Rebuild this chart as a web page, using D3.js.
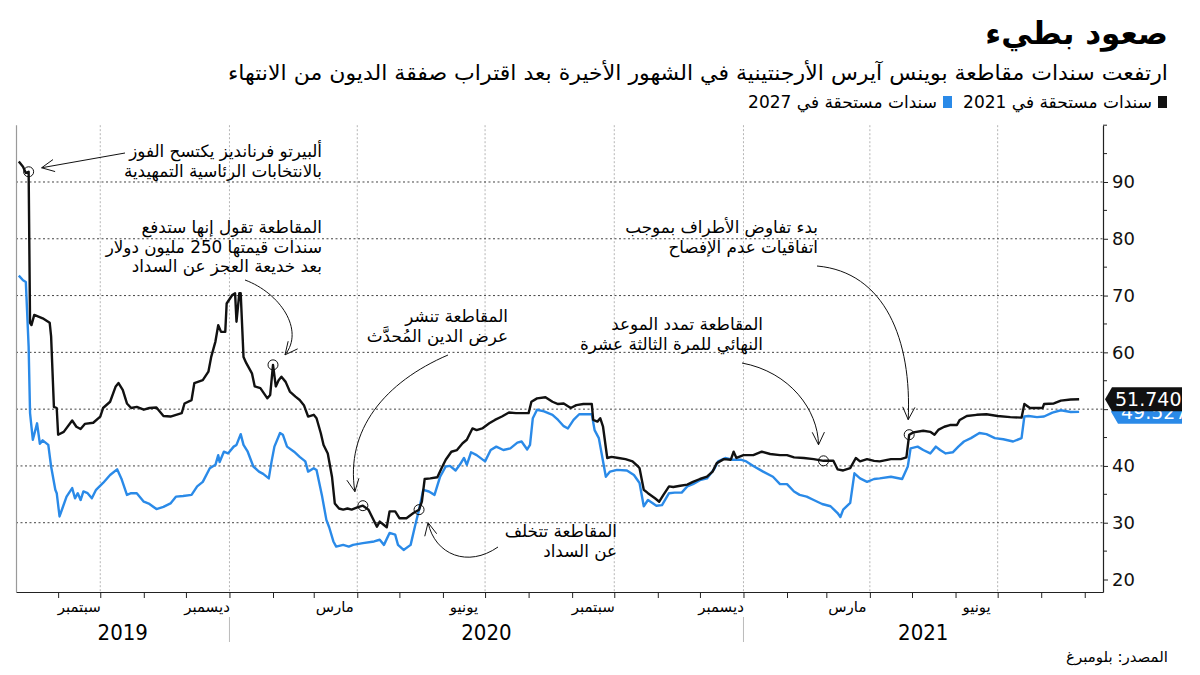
<!DOCTYPE html>
<html><head><meta charset="utf-8">
<script src="https://cdn.jsdelivr.net/npm/d3@7"></script>
<style>body{margin:0;background:#fff} svg{display:block}</style>
</head><body><svg id="c" width="1200" height="675"></svg>
<script>
// ---------------- DATA ----------------
const bonds2021 = [["2019-08-04",93.6],["2019-08-07",92.7],["2019-08-09",91.6],["2019-08-11",91.8],["2019-08-12",65.2],["2019-08-13",64.8],["2019-08-15",66.6],["2019-08-21",66.0],["2019-08-26",65.2],["2019-08-27",62.8],["2019-08-29",50.4],["2019-08-31",50.2],["2019-09-01",45.5],["2019-09-05",46.0],["2019-09-11",48.0],["2019-09-14",46.9],["2019-09-17",46.5],["2019-09-20",47.4],["2019-09-26",47.6],["2019-10-01",48.7],["2019-10-03",50.2],["2019-10-08",51.3],["2019-10-12",54.0],["2019-10-14",54.6],["2019-10-17",53.4],["2019-10-20",51.0],["2019-10-23",50.2],["2019-10-27",50.4],["2019-11-01",49.9],["2019-11-05",50.2],["2019-11-10",50.3],["2019-11-15",48.8],["2019-11-20",48.7],["2019-11-24",49.0],["2019-11-28",49.3],["2019-11-30",51.0],["2019-12-05",51.6],["2019-12-07",54.6],["2019-12-13",55.1],["2019-12-17",56.6],["2019-12-19",59.2],["2019-12-22",61.9],["2019-12-24",64.8],["2019-12-26",63.6],["2019-12-29",63.6],["2019-12-30",68.6],["2020-01-03",70.1],["2020-01-05",70.4],["2020-01-06",65.4],["2020-01-08",70.4],["2020-01-09",70.4],["2020-01-11",59.2],["2020-01-13",58.1],["2020-01-17",56.3],["2020-01-19",54.0],["2020-01-23",53.7],["2020-01-28",51.9],["2020-01-30",52.5],["2020-02-01",57.8],["2020-02-03",54.0],["2020-02-05",55.1],["2020-02-07",55.7],["2020-02-10",54.8],["2020-02-13",53.1],["2020-02-17",52.2],["2020-02-20",51.6],["2020-02-23",50.7],["2020-02-26",48.7],["2020-03-01",49.0],["2020-03-03",48.4],["2020-03-06",45.8],["2020-03-08",43.7],["2020-03-11",42.2],["2020-03-14",38.1],["2020-03-16",33.4],["2020-03-19",32.5],["2020-03-22",32.3],["2020-03-25",32.5],["2020-03-28",32.3],["2020-04-01",32.7],["2020-04-05",33.0],["2020-04-09",32.3],["2020-04-12",30.8],["2020-04-15",29.3],["2020-04-17",30.2],["2020-04-20",29.6],["2020-04-22",29.2],["2020-04-24",32.0],["2020-04-28",32.0],["2020-05-01",30.8],["2020-05-06",30.8],["2020-05-11",31.7],["2020-05-15",32.3],["2020-05-17",33.7],["2020-05-19",37.7],["2020-05-23",37.8],["2020-05-28",38.0],["2020-05-31",39.6],["2020-06-03",41.1],["2020-06-07",42.5],["2020-06-11",42.8],["2020-06-15",44.0],["2020-06-18",44.6],["2020-06-22",46.6],["2020-06-25",46.3],["2020-06-29",46.6],["2020-07-04",47.5],["2020-07-08",48.1],["2020-07-13",48.7],["2020-07-18",49.4],["2020-07-23",49.3],["2020-07-27",49.3],["2020-08-01",49.3],["2020-08-03",51.3],["2020-08-07",51.9],["2020-08-13",52.1],["2020-08-18",51.3],["2020-08-22",50.9],["2020-08-26",51.0],["2020-08-31",50.2],["2020-09-04",50.7],["2020-09-09",50.9],["2020-09-15",50.9],["2020-09-16",48.1],["2020-09-19",47.8],["2020-09-21",48.4],["2020-09-23",46.9],["2020-09-26",41.4],["2020-09-29",41.6],["2020-10-04",41.4],["2020-10-09",41.2],["2020-10-14",40.8],["2020-10-18",39.9],["2020-10-19",39.6],["2020-10-22",35.8],["2020-10-25",35.2],["2020-10-30",34.3],["2020-11-02",33.7],["2020-11-05",34.9],["2020-11-09",36.4],["2020-11-12",36.3],["2020-11-17",36.5],["2020-11-22",36.7],["2020-11-26",37.2],["2020-12-01",37.7],["2020-12-06",38.1],["2020-12-10",39.0],["2020-12-13",40.5],["2020-12-18",41.2],["2020-12-23",41.1],["2020-12-25",42.5],["2020-12-27",41.4],["2021-01-01",41.9],["2021-01-08",41.9],["2021-01-14",42.5],["2021-01-20",42.1],["2021-01-27",41.9],["2021-02-01",41.9],["2021-02-06",41.5],["2021-02-13",41.4],["2021-02-20",41.2],["2021-02-27",40.9],["2021-03-06",40.9],["2021-03-09",39.4],["2021-03-13",39.2],["2021-03-18",39.6],["2021-03-22",41.4],["2021-03-25",40.8],["2021-03-30",41.2],["2021-04-04",40.9],["2021-04-08",40.8],["2021-04-16",41.2],["2021-04-23",41.2],["2021-04-27",41.5],["2021-04-29",45.5],["2021-05-02",45.9],["2021-05-09",46.2],["2021-05-14",46.0],["2021-05-17",45.5],["2021-05-20",46.4],["2021-05-24",46.9],["2021-05-28",47.2],["2021-06-02",47.2],["2021-06-04",48.1],["2021-06-09",48.8],["2021-06-16",49.0],["2021-06-23",49.1],["2021-07-01",48.8],["2021-07-10",48.6],["2021-07-18",48.5],["2021-07-20",50.9],["2021-07-24",50.2],["2021-08-02",50.2],["2021-08-03",50.9],["2021-08-10",51.0],["2021-08-15",51.5],["2021-08-22",51.7],["2021-08-28",51.74]];

const bonds2027 = [["2019-08-04",73.5],["2019-08-07",72.7],["2019-08-09",72.4],["2019-08-11",61.0],["2019-08-12",49.3],["2019-08-14",44.6],["2019-08-17",47.5],["2019-08-19",43.9],["2019-08-21",44.5],["2019-08-25",43.7],["2019-08-27",39.9],["2019-08-30",35.8],["2019-08-31",35.2],["2019-09-02",31.1],["2019-09-04",32.5],["2019-09-07",34.6],["2019-09-11",36.1],["2019-09-13",34.3],["2019-09-15",35.2],["2019-09-17",34.0],["2019-09-19",35.5],["2019-09-22",35.2],["2019-09-25",34.3],["2019-09-28",35.8],["2019-10-03",37.0],["2019-10-08",38.4],["2019-10-13",39.4],["2019-10-16",37.8],["2019-10-20",34.9],["2019-10-23",35.2],["2019-10-27",35.2],["2019-11-01",33.7],["2019-11-05",33.3],["2019-11-10",32.4],["2019-11-15",32.8],["2019-11-20",33.4],["2019-11-24",34.6],["2019-11-29",34.7],["2019-12-05",34.9],["2019-12-09",36.4],["2019-12-13",37.2],["2019-12-18",39.6],["2019-12-22",40.2],["2019-12-24",41.9],["2019-12-25",40.7],["2019-12-28",42.5],["2019-12-31",42.2],["2020-01-04",43.4],["2020-01-06",43.7],["2020-01-09",45.6],["2020-01-11",43.7],["2020-01-14",42.5],["2020-01-18",39.9],["2020-01-22",39.0],["2020-01-25",38.6],["2020-01-29",37.8],["2020-01-31",40.8],["2020-02-02",43.4],["2020-02-06",45.8],["2020-02-08",45.5],["2020-02-11",43.4],["2020-02-16",42.5],["2020-02-20",41.6],["2020-02-24",40.8],["2020-02-26",39.0],["2020-03-01",39.6],["2020-03-03",39.3],["2020-03-07",34.6],["2020-03-10",30.5],["2020-03-12",29.2],["2020-03-15",26.7],["2020-03-17",25.8],["2020-03-22",26.1],["2020-03-26",25.8],["2020-03-29",26.1],["2020-04-05",26.4],["2020-04-13",26.7],["2020-04-17",27.0],["2020-04-20",26.1],["2020-04-24",28.2],["2020-04-28",27.9],["2020-04-30",26.1],["2020-05-04",25.2],["2020-05-09",26.1],["2020-05-12",29.3],["2020-05-15",32.3],["2020-05-18",35.8],["2020-05-22",35.5],["2020-05-26",34.9],["2020-05-30",38.1],["2020-06-03",39.9],["2020-06-06",40.0],["2020-06-10",39.2],["2020-06-13",40.2],["2020-06-16",41.4],["2020-06-18",40.2],["2020-06-21",42.4],["2020-06-25",41.9],["2020-07-01",40.8],["2020-07-05",42.8],["2020-07-09",43.4],["2020-07-14",42.8],["2020-07-19",43.1],["2020-07-24",44.1],["2020-07-27",44.3],["2020-07-31",42.9],["2020-08-02",43.7],["2020-08-04",48.4],["2020-08-07",49.9],["2020-08-12",49.6],["2020-08-18",49.0],["2020-08-22",48.1],["2020-08-26",47.0],["2020-08-29",46.6],["2020-09-02",48.1],["2020-09-06",49.1],["2020-09-12",49.1],["2020-09-15",49.1],["2020-09-17",46.3],["2020-09-20",44.9],["2020-09-22",42.2],["2020-09-25",38.1],["2020-09-28",39.0],["2020-10-03",39.3],["2020-10-10",39.2],["2020-10-15",38.4],["2020-10-19",37.0],["2020-10-22",32.9],["2020-10-25",34.0],["2020-10-31",33.0],["2020-11-04",33.1],["2020-11-09",35.2],["2020-11-13",35.3],["2020-11-18",35.3],["2020-11-22",36.4],["2020-11-26",36.8],["2020-12-01",37.5],["2020-12-06",37.8],["2020-12-11",39.4],["2020-12-14",40.8],["2020-12-19",41.4],["2020-12-24",41.1],["2020-12-30",41.1],["2021-01-03",40.8],["2021-01-08",40.0],["2021-01-15",39.0],["2021-01-22",38.1],["2021-01-27",36.8],["2021-02-01",36.8],["2021-02-06",35.5],["2021-02-10",34.9],["2021-02-15",34.6],["2021-02-20",34.0],["2021-02-26",33.3],["2021-03-04",32.9],["2021-03-09",31.7],["2021-03-11",31.0],["2021-03-13",32.3],["2021-03-18",33.5],["2021-03-21",38.7],["2021-03-25",37.8],["2021-03-30",37.2],["2021-04-04",37.7],["2021-04-08",37.8],["2021-04-16",38.1],["2021-04-24",37.7],["2021-04-28",39.9],["2021-04-30",43.1],["2021-05-05",43.4],["2021-05-09",42.8],["2021-05-14",42.2],["2021-05-18",43.4],["2021-05-21",42.8],["2021-05-25",42.2],["2021-05-30",42.4],["2021-06-03",43.4],["2021-06-07",44.3],["2021-06-12",44.9],["2021-06-18",45.8],["2021-06-23",45.6],["2021-06-29",44.9],["2021-07-05",44.7],["2021-07-12",44.3],["2021-07-18",44.9],["2021-07-20",48.7],["2021-07-23",48.8],["2021-07-29",48.6],["2021-08-03",48.7],["2021-08-09",49.4],["2021-08-15",49.8],["2021-08-22",49.5],["2021-08-28",49.527]];

const seriesNames = ["سندات مستحقة في 2021", "سندات مستحقة في 2027"];
const lastLabels = ["51.740", "49.527"];
const yTickValues = [20, 30, 40, 50, 60, 70, 80, 90];
const yGridValues = [30, 40, 50, 60, 70, 80, 90];
const yMinorValues = [25, 35, 45, 55, 65, 75, 85, 95, 100];
const quarterDates = ["2019-10-01","2020-01-01","2020-04-01","2020-07-01","2020-10-01","2021-01-01","2021-04-01","2021-07-01"];
const monthLabels = ["سبتمبر","ديسمبر","مارس","يونيو","سبتمبر","ديسمبر","مارس","يونيو"];
const monthLabelDates = ["2019-09-16","2019-12-16","2020-03-16","2020-06-16","2020-09-16","2020-12-16","2021-03-16","2021-06-16"];
const yearLabels = ["2019","2020","2021"];
const yearSpans = [["2019-08-02","2020-01-01"],["2020-01-01","2021-01-01"],["2021-01-01","2021-09-14"]];
const yearSeparators = ["2020-01-01","2021-01-01"];

const annotationDates = ["2019-08-11","2020-02-01","2020-04-05","2020-05-15","2021-02-27","2021-04-29"];
const annotationValues = [91.8, 57.8, 33.0, 32.3, 40.9, 45.5];
const annotationTexts = [
  ["ألبيرتو فرنانديز يكتسح الفوز","بالانتخابات الرئاسية التمهيدية"],
  ["المقاطعة تقول إنها ستدفع","سندات قيمتها 250 مليون دولار","بعد خديعة العجز عن السداد"],
  ["المقاطعة تنشر","عرض الدين المُحدَّث"],
  ["المقاطعة تتخلف","عن السداد"],
  ["المقاطعة تمدد الموعد","النهائي للمرة الثالثة عشرة"],
  ["بدء تفاوض الأطراف بموجب","اتفاقيات عدم الإفصاح"]
];

const titleText = "صعود بطيء";
const subtitleText = "ارتفعت سندات مقاطعة بوينس آيرس الأرجنتينية في الشهور الأخيرة بعد اقتراب صفقة الديون من الانتهاء";
const sourceText = "المصدر: بلومبرغ";

// ---------------- LAYOUT ----------------
const AR = "'DejaVu Sans', sans-serif";
const NUM = "'DejaVu Sans', sans-serif";
const BLACK = "#111111", BLUE = "#2a8ae8";
const parse = d3.utcParse("%Y-%m-%d");
const svg = d3.select("#c");
const L = 16, R = 1103, T = 125.2, B = 592;

const x = d3.scaleUtc().domain([parse("2019-08-02"), parse("2021-09-14")]).range([L, R]);
const y = d3.scaleLinear().domain([17.8, 100]).range([B, T]);

// title
svg.append("text").attr("x",1168).attr("y",44).attr("text-anchor","end")
  .attr("font-family",AR).attr("font-weight","bold").attr("font-size",31).attr("fill","#000")
  .text(titleText);
svg.append("text").attr("x",1168).attr("y",80).attr("text-anchor","end")
  .attr("font-family",AR).attr("font-size",21).attr("fill","#000")
  .attr("textLength",940).attr("lengthAdjust","spacingAndGlyphs")
  .text(subtitleText);

// legend
const legX = [1167, 952];
const legCol = [BLACK, BLUE];
seriesNames.forEach((n,i)=>{
  svg.append("rect").attr("x",legX[i]-9).attr("y",96).attr("width",9).attr("height",12).attr("fill",legCol[i]);
  svg.append("text").attr("x",legX[i]-15).attr("y",108).attr("text-anchor","end")
    .attr("font-family",AR).attr("font-size",17).attr("fill","#000").text(n);
});

// vertical quarter gridlines
svg.append("g").selectAll("line").data(quarterDates).join("line")
  .attr("x1",d=>x(parse(d))).attr("x2",d=>x(parse(d)))
  .attr("y1",T).attr("y2",B)
  .attr("stroke","#b5b5b5").attr("stroke-width",1).attr("stroke-dasharray","2,2");

// horizontal gridlines
svg.append("g").selectAll("line").data(yGridValues).join("line")
  .attr("x1",L).attr("x2",R).attr("y1",d=>y(d)).attr("y2",d=>y(d))
  .attr("stroke","#444").attr("stroke-width",1).attr("stroke-dasharray","2,2.5");

// left border
svg.append("line").attr("x1",L+0.5).attr("x2",L+0.5).attr("y1",T).attr("y2",B)
  .attr("stroke","#9a9a9a").attr("stroke-width",1.2);

// lines
const line = d3.line().x(d=>x(parse(d[0]))).y(d=>y(d[1])).curve(d3.curveLinear);
svg.append("path").datum(bonds2027).attr("d",line).attr("fill","none")
  .attr("stroke",BLUE).attr("stroke-width",2.4).attr("stroke-linejoin","round");
svg.append("path").datum(bonds2021).attr("d",line).attr("fill","none")
  .attr("stroke",BLACK).attr("stroke-width",2.4).attr("stroke-linejoin","round");

// x axis
const xAxis = d3.axisBottom(x).ticks(d3.utcMonth.every(1)).tickFormat("").tickSize(6).tickSizeOuter(0);
const gx = svg.append("g").attr("transform",`translate(0,${B})`).call(xAxis);
gx.select(".domain").attr("stroke","#222").attr("stroke-width",1.2);
gx.selectAll(".tick line").attr("stroke","#222");

svg.append("g").selectAll("text").data(monthLabels).join("text")
  .attr("x",(d,i)=>x(parse(monthLabelDates[i]))).attr("y",612)
  .attr("text-anchor","middle").attr("font-family",AR).attr("font-size",15).attr("fill","#000")
  .text(d=>d);
svg.append("g").selectAll("text").data(yearLabels).join("text")
  .attr("x",(d,i)=>(x(parse(yearSpans[i][0]))+x(parse(yearSpans[i][1])))/2).attr("y",640)
  .attr("text-anchor","middle").attr("font-family","'Liberation Sans Narrow', 'DejaVu Sans Condensed', sans-serif")
  .attr("font-size",22).attr("fill","#000").text(d=>d);
svg.append("g").selectAll("line").data(yearSeparators).join("line")
  .attr("x1",d=>x(parse(d))).attr("x2",d=>x(parse(d))).attr("y1",617).attr("y2",642)
  .attr("stroke","#bbb").attr("stroke-width",1);

// y axis (right)
const yAxis = d3.axisRight(y).tickValues(yTickValues).tickSize(5).tickPadding(4).tickSizeOuter(0).tickFormat(d3.format("d"));
const gy = svg.append("g").attr("transform",`translate(${R},0)`).call(yAxis);
gy.select(".domain").attr("stroke","#222").attr("stroke-width",1.2);
gy.selectAll(".tick line").attr("stroke","#222");
gy.selectAll(".tick text").attr("font-family",NUM).attr("font-size",18).attr("fill","#111");
svg.append("g").selectAll("line").data(yMinorValues).join("line")
  .attr("x1",R).attr("x2",R+4).attr("y1",d=>y(d)).attr("y2",d=>y(d)).attr("stroke","#222");

// end value labels
const lastVals = [bonds2021[bonds2021.length-1][1], bonds2027[bonds2027.length-1][1]];
const tipX = [R+2, R+8];
[1,0].forEach(i=>{
  const cy = y(lastVals[i]), h = 24, tx = tipX[i];
  svg.append("path")
    .attr("d",`M${tx},${cy} L${tx+7},${cy-h/2} L1182,${cy-h/2} L1182,${cy+h/2} L${tx+7},${cy+h/2} Z`)
    .attr("fill", i===0?BLACK:BLUE);
  svg.append("text").attr("x",tx+10).attr("y",cy+7).attr("font-family",NUM).attr("font-size",19)
    .attr("fill","#fff").text(lastLabels[i]);
});

// annotations
const textPos = [[322,157],[322,233],[508,322],[617,537],[763,330],[818,233]];
const arrowStart = [[125,153],[245,280],[448,355],[498,547],[742,363],[817,266]];
const tipOffset = [[13,-4],[12,-10],[-8,-14],[9,13],[-5,-16],[-1,-15]];
const ctrl = [null, [[280,293],[305,330]], [[385,382],[345,430]], [[468,568],[435,555]], [[790,372],[818,410]], [[885,272],[912,340]]];
const ag = svg.append("g");
annotationDates.forEach((d,i)=>{
  const cx = x(parse(d)), cy = y(annotationValues[i]);
  ag.append("circle").attr("cx",cx).attr("cy",cy).attr("r",5).attr("fill","none").attr("stroke",BLACK).attr("stroke-width",1);
  const tip = [cx+tipOffset[i][0], cy+tipOffset[i][1]];
  const s = arrowStart[i];
  let dpath, prev;
  if (!ctrl[i]) { dpath = `M${s[0]},${s[1]} L${tip[0]},${tip[1]}`; prev = s; }
  else { const c = ctrl[i]; dpath = `M${s[0]},${s[1]} C${c[0][0]},${c[0][1]} ${c[1][0]},${c[1][1]} ${tip[0]},${tip[1]}`; prev = c[1]; }
  ag.append("path").attr("d",dpath).attr("fill","none").attr("stroke",BLACK).attr("stroke-width",1);
  const ang = Math.atan2(tip[1]-prev[1], tip[0]-prev[0]);
  const len = 14, spread = 0.45;
  const w1 = [tip[0]-len*Math.cos(ang-spread), tip[1]-len*Math.sin(ang-spread)];
  const w2 = [tip[0]-len*Math.cos(ang+spread), tip[1]-len*Math.sin(ang+spread)];
  ag.append("path").attr("d",`M${w1[0]},${w1[1]} L${tip[0]},${tip[1]} L${w2[0]},${w2[1]}`)
    .attr("fill","none").attr("stroke",BLACK).attr("stroke-width",1);
  annotationTexts[i].forEach((t,j)=>{
    ag.append("text").attr("x",textPos[i][0]).attr("y",textPos[i][1]+j*19.5).attr("text-anchor","end")
      .attr("font-family",AR).attr("font-size",16.8).attr("fill","#000").text(t);
  });
});

// source
svg.append("text").attr("x",1168).attr("y",662).attr("text-anchor","end")
  .attr("font-family",AR).attr("font-size",15).attr("fill","#000").text(sourceText);
</script></body></html>
